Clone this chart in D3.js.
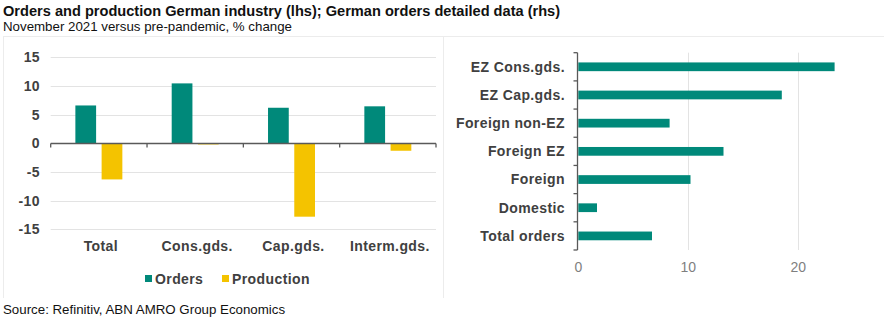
<!DOCTYPE html>
<html>
<head>
<meta charset="utf-8">
<script src="https://cdn.jsdelivr.net/npm/d3@7"></script>
<style>
  html, body { margin: 0; padding: 0; background: #fff; }
  svg { display: block; font-family: "Liberation Sans", Arial, sans-serif; }
</style>
</head>
<body>
<svg id="chart" width="894" height="325"></svg>
<script>
// Left panel: orders vs production by sector
const sectors = ["Total", "Cons.gds.", "Cap.gds.", "Interm.gds."];
const ordersChange = [6.6, 10.45, 6.2, 6.45];
const productionChange = [-6.3, -0.2, -12.8, -1.3];
const leftTicks = [15, 10, 5, 0, -5, -10, -15];

// Right panel: detailed orders
const orderTypes = ["EZ Cons.gds.", "EZ Cap.gds.", "Foreign non-EZ", "Foreign EZ", "Foreign", "Domestic", "Total orders"];
const orderValues = [23.3, 18.5, 8.3, 13.2, 10.2, 1.7, 6.7];
const rightTicks = [0, 10, 20];

const seriesNames = ["Orders", "Production"];
const TEAL = "#00897a", GOLD = "#f4c300", TEXT = "#404040", GRID = "#e3e3e3", AXIS = "#595959";
const LABEL_SIZE = 14, LABEL_SPACING = 0.4;

const svg = d3.select("#chart");

// Titles
svg.append("text").attr("x", 3).attr("y", 16)
  .attr("font-size", 14.6).attr("font-weight", "bold").attr("fill", "#111")
  .text("Orders and production German industry (lhs); German orders detailed data (rhs)");
svg.append("text").attr("x", 3).attr("y", 31)
  .attr("font-size", 13.3).attr("fill", "#111")
  .text("November 2021 versus pre-pandemic, % change");
svg.append("text").attr("x", 3).attr("y", 314)
  .attr("font-size", 13.3).attr("fill", "#111")
  .text("Source: Refinitiv, ABN AMRO Group Economics");

// Faint panel frames
const frame = svg.append("g").attr("stroke", "#ececec").attr("fill", "none");
frame.append("line").attr("x1", 3).attr("x2", 884).attr("y1", 36.5).attr("y2", 36.5);
frame.append("line").attr("x1", 3.5).attr("x2", 3.5).attr("y1", 36).attr("y2", 298);
frame.append("line").attr("x1", 443.5).attr("x2", 443.5).attr("y1", 36).attr("y2", 298);

// ---- Left chart ----
const y = d3.scaleLinear().domain([-15, 15]).range([229.3, 57.3]);
const x0 = d3.scaleBand().domain(sectors).range([50.7, 436]).paddingInner(0).paddingOuter(0);
const x1 = d3.scaleBand().domain(seriesNames).range([0, x0.bandwidth()]).paddingInner(0.21).paddingOuter(0.94);

const L = svg.append("g");
L.append("g").selectAll("line").data(leftTicks.filter(t => t !== 0)).join("line")
  .attr("x1", 50.7).attr("x2", 436)
  .attr("y1", d => Math.round(y(d)) + 0.5).attr("y2", d => Math.round(y(d)) + 0.5)
  .attr("stroke", GRID);

L.append("g").selectAll("text").data(leftTicks).join("text")
  .attr("x", 40).attr("y", d => y(d)).attr("dy", "0.35em")
  .attr("text-anchor", "end").attr("font-size", LABEL_SIZE).attr("font-weight", "bold")
  .attr("letter-spacing", LABEL_SPACING).attr("fill", TEXT)
  .text(d => d);

const groups = L.append("g").selectAll("g").data(sectors).join("g")
  .attr("transform", d => `translate(${x0(d)},0)`);
groups.append("rect")
  .attr("x", x1("Orders")).attr("width", x1.bandwidth())
  .attr("y", (d, i) => y(Math.max(0, ordersChange[i])))
  .attr("height", (d, i) => Math.abs(y(ordersChange[i]) - y(0)))
  .attr("fill", TEAL);
groups.append("rect")
  .attr("x", x1("Production")).attr("width", x1.bandwidth())
  .attr("y", (d, i) => y(Math.max(0, productionChange[i])))
  .attr("height", (d, i) => Math.abs(y(productionChange[i]) - y(0)))
  .attr("fill", GOLD);

// zero axis with category ticks
const zy = Math.round(y(0)) + 0.5;
L.append("line").attr("x1", 50.7).attr("x2", 436).attr("y1", zy).attr("y2", zy)
  .attr("stroke", AXIS).attr("stroke-width", 1.3);
const bounds = sectors.map(s => x0(s)).concat([436]);
L.append("g").selectAll("line").data(bounds).join("line")
  .attr("x1", d => d).attr("x2", d => d).attr("y1", zy).attr("y2", zy + 4)
  .attr("stroke", AXIS).attr("stroke-width", 1.3);

L.append("g").selectAll("text").data(sectors).join("text")
  .attr("x", d => x0(d) + x0.bandwidth() / 2 + 2).attr("y", 251)
  .attr("text-anchor", "middle").attr("font-size", LABEL_SIZE).attr("font-weight", "bold")
  .attr("letter-spacing", LABEL_SPACING).attr("fill", TEXT)
  .text(d => d);

// legend
const legend = L.append("g").attr("transform", "translate(145,279)");
const legItems = [{ name: "Orders", color: TEAL, x: 0 }, { name: "Production", color: GOLD, x: 77 }];
legend.selectAll("rect").data(legItems).join("rect")
  .attr("x", d => d.x).attr("y", -4).attr("width", 7).attr("height", 7).attr("fill", d => d.color);
legend.selectAll("text").data(legItems).join("text")
  .attr("x", d => d.x + 10).attr("y", 0).attr("dy", "0.35em")
  .attr("font-size", LABEL_SIZE).attr("font-weight", "bold")
  .attr("letter-spacing", LABEL_SPACING).attr("fill", TEXT)
  .text(d => d.name);

// ---- Right chart ----
const xr = d3.scaleLinear().domain([0, 10]).range([578.3, 688.3]);
const yr = d3.scaleBand().domain(orderTypes).range([52.7, 250]).paddingInner(0.69).paddingOuter(0.345);
const yb = d3.scaleBand().domain(orderTypes).range([52.7, 250]);

const R = svg.append("g");
R.append("g").selectAll("line").data(rightTicks.filter(t => t !== 0)).join("line")
  .attr("x1", d => Math.round(xr(d)) + 0.5).attr("x2", d => Math.round(xr(d)) + 0.5)
  .attr("y1", 52.7).attr("y2", 250).attr("stroke", GRID);

R.append("g").selectAll("rect").data(orderTypes).join("rect")
  .attr("x", xr(0)).attr("y", d => yr(d))
  .attr("width", (d, i) => xr(orderValues[i]) - xr(0))
  .attr("height", yr.bandwidth()).attr("fill", TEAL);

const ax = Math.round(xr(0)) - 0.5;
R.append("line").attr("x1", ax).attr("x2", ax).attr("y1", 52.7).attr("y2", 250)
  .attr("stroke", AXIS).attr("stroke-width", 1.3);
const rb = orderTypes.map(t => yb(t)).concat([250]);
R.append("g").selectAll("line").data(rb).join("line")
  .attr("x1", ax - 4).attr("x2", ax).attr("y1", d => d).attr("y2", d => d)
  .attr("stroke", AXIS).attr("stroke-width", 1.3);

R.append("g").selectAll("text").data(orderTypes).join("text")
  .attr("x", 565).attr("y", d => yb(d) + yb.bandwidth() / 2).attr("dy", "0.35em")
  .attr("text-anchor", "end").attr("font-size", LABEL_SIZE).attr("font-weight", "bold")
  .attr("letter-spacing", LABEL_SPACING).attr("fill", TEXT)
  .text(d => d);

R.append("g").selectAll("text").data(rightTicks).join("text")
  .attr("x", d => xr(d)).attr("y", 267).attr("dy", "0.35em")
  .attr("text-anchor", "middle").attr("font-size", 14).attr("fill", "#7f7f7f")
  .text(d => d);
</script>
</body>
</html>
